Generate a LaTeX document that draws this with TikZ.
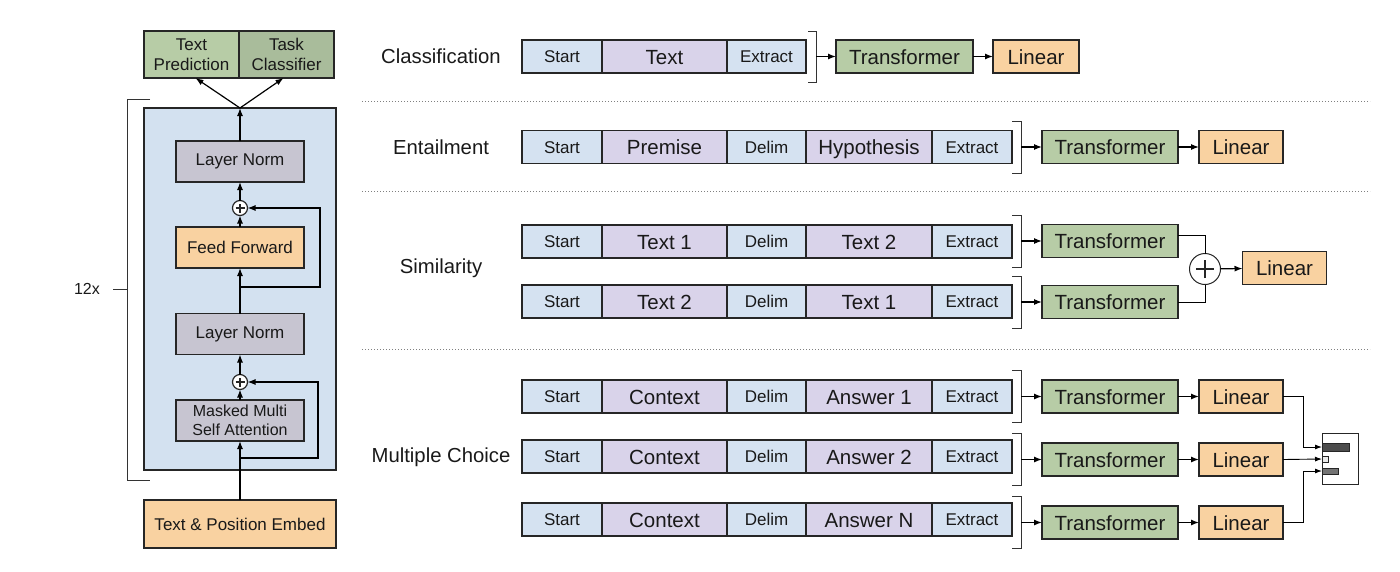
\documentclass[tikz,border=0pt]{standalone}
\usepackage{fontspec}
\setmainfont{Liberation Sans}
\usetikzlibrary{positioning,arrows.meta}

\definecolor{tokblue}{HTML}{D5E2F1}
\definecolor{tokpurple}{HTML}{D9D3EA}
\definecolor{trgreen}{HTML}{B7CCA6}
\definecolor{clsgreen}{HTML}{A9BC9B}
\definecolor{linorange}{HTML}{F9D2A1}
\definecolor{normgrey}{HTML}{C7C5D1}
\definecolor{stackblue}{HTML}{D3E1F0}

\begin{document}
\begin{tikzpicture}[
                    x=1pt, y=-1pt,
                    >={Latex[length=8pt,width=6pt]},
                    line width=1.2pt,
                    every node/.style={outer sep=0pt, inner sep=0pt, text=black!90},
                    box/.style={draw=black!85, line width=1.3pt, minimum height=33pt,
                                font=\fontsize{17}{19}\selectfont},
                    tok/.style={box, fill=tokblue, minimum width=80pt,
                                text height=14.3pt, text depth=2pt},
                    big/.style={box, font=\fontsize{20.5}{22}\selectfont,
                                text height=17pt, text depth=2pt},
                    seg/.style={big, fill=tokpurple, minimum width=125pt},
                    trans/.style={big, fill=trgreen, minimum width=136pt},
                    lin/.style={big, fill=linorange, minimum width=84pt},
                    layer/.style={box, minimum width=128pt, minimum height=41pt, align=center},
                    stackbox/.style={box, minimum width=95pt, minimum height=47pt, align=center,
                                     font=\fontsize{17}{20}\selectfont},
                    addc/.style={circle, draw=black!85, line width=1.2pt, fill=white, minimum size=15pt,
                                 path picture={\draw[line width=1.3pt]
                                   ([xshift=-4.5pt]path picture bounding box.center) -- ([xshift=4.5pt]path picture bounding box.center)
                                   ([yshift=-4.5pt]path picture bounding box.center) -- ([yshift=4.5pt]path picture bounding box.center);}},
                    lbl/.style={font=\fontsize{20.3}{22}\selectfont},
                    brk/.style={line width=1pt, draw=black!80},
                    sep/.style={line width=1pt, dotted, draw=black!50},
                    thinarr/.style={->, line width=0.9pt, >={Latex[length=7pt,width=5pt]}}
                ]
                \useasboundingbox (0,0) rectangle (1400,571);

                % decoder stack
                \node[box, fill=stackblue, minimum width=192pt, minimum height=362pt] (stk) at (240,289) {};
                \node[stackbox, fill=trgreen] (tp) at (191.5,54.5) {Text\\Prediction};
                \node[stackbox, fill=clsgreen, right=0pt of tp] (tc) {Task\\Classifier};
                \node[layer, fill=normgrey] (ln1) at (240,161.5) {Layer Norm};
                \node[addc] (p1) at (240,208) {};
                \node[layer, fill=linorange] (ff) at (240,247.5) {Feed Forward};
                \node[layer, fill=normgrey] (ln2) at (240,334) {Layer Norm};
                \node[addc] (p2) at (240,382) {};
                \node[layer, fill=normgrey, font=\fontsize{16}{19}\selectfont] (msa) at (240,420.5) {Masked Multi\\Self Attention};
                \node[stackbox, fill=linorange, minimum width=192pt, minimum height=48pt] (emb) at (240,524) {Text \& Position Embed};
                \coordinate (r1) at (240,458);
                \coordinate (r2) at (240,287);

                \draw[->] (ln1) -- (stk.north);
                \draw[->] (stk.north) -- ([xshift=4pt]tp.south);
                \draw[->] (stk.north) -- ([xshift=-3pt]tc.south);
                \draw[->] (p1) -- (ln1);
                \draw[->] (ff) -- (p1);
                \draw[->] (ln2) -- (ff);
                \draw[->] (r2) -- ++(80,0) |- (p1);
                \draw[->] (p2) -- (ln2);
                \draw[->] (msa) -- (p2);
                \draw[->] (emb) -- (msa);
                \draw[->] (r1) -- ++(78,0) |- (p2);

                % 12x bracket
                \draw[brk] (150,99) -- (127,99) -- (127,480) -- (150,480);
                \node (rep) at (87,289) {\fontsize{16}{18}\selectfont 12x};
                \coordinate (repb) at (127,289);
                \draw[brk] (repb) -- ++(-14,0);

                % task labels and separators
                \node[lbl] (l-cls) at (441,56) {Classification};
                \node[lbl] (l-ent) at (441,147) {Entailment};
                \node[lbl] (l-sim) at (441,268) {Similarity};
                \node[lbl] (l-mc) at (441,457) {Multiple Choice};
                \draw[sep] (362,101) -- (1370,101);
                \draw[sep] (362,191) -- (1370,191);
                \draw[sep] (362,349) -- (1370,349);

                % classification
                \node[tok] (c-1) at (562,56.5) {Start};
                \node[seg, right=0pt of c-1] (c-2) {Text};
                \node[tok, minimum width=79pt, right=0pt of c-2] (c-3) {Extract};
                \draw[brk] (808,31) -| (816,82) -- (808,82);
                \coordinate (c-b) at (816,56.5);
                \node[trans, minimum width=137pt] (c-t) at (904.5,56.5) {Transformer};
                \node[lin, minimum width=86pt] (c-l) at (1036,56.5) {Linear};
                \draw[->] (c-b) -- (c-t);
                \draw[->] (c-t) -- (c-l);

                % rows with five tokens
                \foreach \r/\y/\t/\a/\b in {e/147/147/Premise/Hypothesis,
                                            s1/241.5/241/Text 1/Text 2,
                                            s2/301.5/302/Text 2/Text 1,
                                            m1/396.5/396.5/Context/Answer 1,
                                            m2/456.5/459.5/Context/Answer 2,
                                            m3/519.5/522.5/Context/Answer N} {
                    \node[tok] (\r-1) at (562,\y) {Start};
                    \node[seg, right=0pt of \r-1] (\r-2) {\a};
                    \node[tok, minimum width=79pt, right=0pt of \r-2] (\r-3) {Delim};
                    \node[seg, minimum width=126pt, right=0pt of \r-3] (\r-4) {\b};
                    \node[tok, right=0pt of \r-4] (\r-5) {Extract};
                    \draw[brk] (1012,{\t-26}) -| (1021,{\t+26}) -- (1012,{\t+26});
                    \coordinate (\r-b) at (1021,\t);
                    \node[trans] (\r-t) at (1110,\t) {Transformer};
                    \draw[->] (\r-b) -- (\r-t);
                }
                \foreach \r in {e,m1,m2,m3} {
                    \node[lin, right=21pt of \r-t] (\r-l) {Linear};
                    \draw[->] (\r-t) -- (\r-l);
                }

                % similarity sum
                \node[addc, minimum size=31pt, line width=1pt,
                      path picture={\draw[line width=1.5pt]
                        ([xshift=-9pt]path picture bounding box.center) -- ([xshift=9pt]path picture bounding box.center)
                        ([yshift=-9pt]path picture bounding box.center) -- ([yshift=9pt]path picture bounding box.center);}] (sp) at (1205,269) {};
                \node[lin] (s-l) at (1284.5,268) {Linear};
                \draw[line width=1pt] ([yshift=6pt]s1-t.east) -| (sp);
                \draw[line width=1pt] (s2-t.east) -| (sp);
                \draw[->] (sp) -- (s-l);

                % multiple choice softmax
                \node[draw=black!85, line width=0.9pt, fill=white, minimum width=36pt, minimum height=51pt] (sm) at (1340,458.5) {};
                \node[draw=black!85, line width=0.7pt, fill=black!70, minimum width=27pt, minimum height=8pt, anchor=west] (bar1) at (1322,447) {};
                \node[draw=black!85, line width=0.7pt, fill=black!8, minimum width=6pt, minimum height=6pt, anchor=west] (bar2) at (1322,459) {};
                \node[draw=black!85, line width=0.7pt, fill=black!55, minimum width=16pt, minimum height=6pt, anchor=west] (bar3) at (1322,471) {};
                \draw[thinarr] (m1-l.east) -- ++(20,0) |- (bar1.west);
                \draw[thinarr] (m2-l.east) -- (bar2.west);
                \draw[thinarr] (m3-l.east) -- ++(20,0) |- (bar3.west);
            \end{tikzpicture}
\end{document}
